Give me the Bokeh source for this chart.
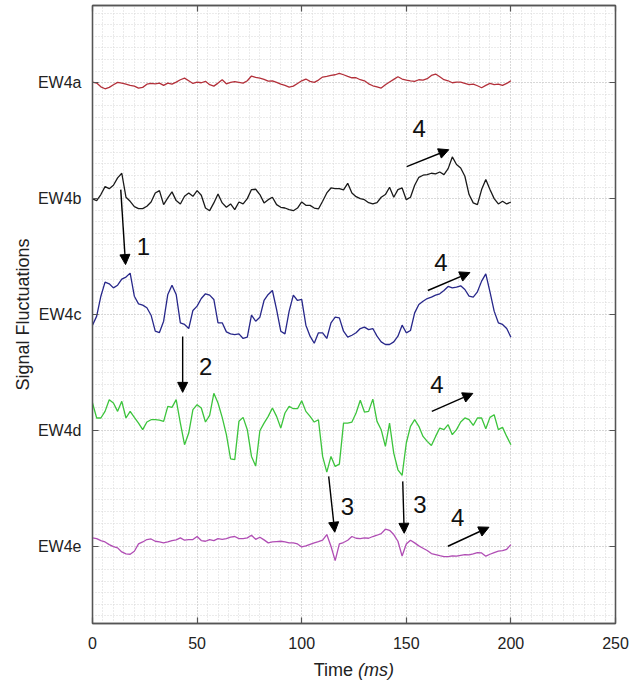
from bokeh.plotting import figure
from bokeh.models import (FixedTicker, SingleIntervalTicker, LinearAxis, Range1d,
                          Arrow, NormalHead, ColumnDataSource)
from bokeh.core.properties import value
from bokeh.embed import file_html
from bokeh.resources import INLINE

# sampling grid of the recordings (ms)
time_ms = list(range(0, 201, 2))

# channel names and the level each trace is stacked on
channels = ["EW4a", "EW4b", "EW4c", "EW4d", "EW4e"]
channel_level = [500, 400, 300, 200, 100]

# signal fluctuations around each channel level (arbitrary units)
ew4a = [0.6, -0.3, -3.5, -5.2, -4.0, -1.7, 0.3, -0.3, -1.2, -2.3, -2.9, -4.6, -4.0, -1.2, -0.6,
        -0.9, -0.3, -2.3, -0.3, -1.2, 0.6, 2.6, 4.0, 1.7, -0.6, 0.6, 0.0, 1.2, -1.7, -2.9,
        -0.3, 2.6, -0.9, 0.3, 0.9, 0.3, -0.3, 1.7, 5.8, 4.6, 4.0, 2.9, 1.4, 1.7, 0.3,
        -1.2, -2.3, -3.7, -2.9, -0.6,
        1.7, 3.2, 1.2, 0.3, 2.3, 4.9, 5.5, 6.3, 6.9, 8.1, 6.9, 5.5, 4.3, 4.3, 2.6,
        1.7, -0.9, -2.6, -3.5, -4.6, -1.7, 0.6, 2.9, 5.2, 3.2, 2.3, 1.7, 1.2, 2.6, 2.3,
        3.5, 6.3, 7.5, 5.2, 2.6, 1.7, 0.0, 0.6, 0.6, -0.6, -1.7, -1.2, -2.6, -4.3, -2.3,
        -0.6, -1.7, -1.2, -2.3, -0.6, 1.7]
ew4b = [-0.3, -1.7, 3.5, 10.4, 8.6, 11.5, 17.9, 21.9, 1.2, -2.3, -6.9, -8.6, -8.6, -6.6, -2.9,
        4.9, 6.9, -5.2, 0.6, 5.8, -1.7, -4.6, 2.0, 4.9, 2.0, 6.9, 2.9, -8.1, -10.4, -3.7,
        4.0, -3.7, -7.5, -4.6, -9.5, -2.9, -4.6, 0.0, 7.8, 8.1, 3.5, -3.7, -0.9, 1.2, -5.2,
        -7.5, -8.1, -9.5, -10.4, -8.1,
        -2.9, -5.8, -5.8, -8.1, -8.9, -2.3, 4.9, 9.2, 8.6, 8.6, 7.5, 13.2, 4.9, 1.7, 0.0,
        -0.9, -3.5, -4.6, -3.5, 1.2, 3.5, 9.8, 1.2, 7.8, 9.2, -0.9, 1.2, 11.5, 18.4, 20.2,
        20.7, 21.9, 21.3, 23.0, 20.7, 25.9, 36.0, 29.4, 26.5, 19.3, 3.5, -3.7, -5.2, 7.8, 16.4,
        7.8, 0.0, -4.6, -2.3, -4.6, -2.9]
ew4c = [-9.2, -1.4, 15.8, 27.9, 26.5, 23.0, 25.3, 30.5, 32.3, 35.7, 15.8, 9.2, 8.1, 5.8, -0.6,
        -14.4, -15.6, -5.8, 17.3, 25.3, 17.3, -7.2, -8.6, -12.1, 3.5, 7.2, 13.8, 17.9, 16.7, 13.0,
        -7.2, -7.2, -15.0, -16.7, -17.3, -16.7, -20.7, -19.6, -0.6, -5.8, -2.3, 12.1, 17.3, 20.7, 4.3,
        -14.4, -16.7, 2.9, 16.7, 12.1,
        13.0, -9.2, -18.7, -24.8, -15.8, -15.8, -20.7, -7.2, -2.3, -2.9, -14.4, -19.6, -17.9, -15.8, -12.1,
        -10.9, -13.0, -12.1, -18.7, -23.6, -25.9, -25.9, -23.6, -18.7, -9.2, -15.8, -13.8, 1.4, 8.6, 11.5,
        13.8, 15.0, 16.7, 17.9, 20.7, 24.2, 23.0, 23.6, 24.8, 21.6, 15.8, 15.0, 19.6, 28.8, 35.0,
        19.6, 2.9, -7.2, -8.6, -12.1, -19.6]
ew4d = [23.6, 10.7, 10.7, 16.4, 26.5, 23.6, 16.4, 25.1, 10.7, 16.4, 11.2, 6.3, 0.6, 7.2, 9.2,
        9.2, 8.9, 7.8, 20.7, 19.9, 26.5, 6.3, -12.4, -2.3, 17.9, 22.2, 19.3, 7.2, 13.0, 32.0,
        23.6, 11.2, -3.7, -24.5, -25.3, 7.8, 11.2, 0.6, -22.5, -30.8, -0.3, 6.3, 12.1, 19.3, 12.1,
        2.0, 15.0, 20.7, 18.7, 18.7,
        25.6, 16.4, 12.1, 7.2, 9.2, -22.5, -36.0, -22.5, -31.1, -29.1, 6.3, 6.3, 7.2, 15.0, 26.0,
        15.8, 16.4, 27.0, 7.8, 0.6, -13.8, 6.3, -19.6, -34.0, -38.9, -10.9, 3.5, 9.2, 3.5, -5.2,
        -9.5, -13.0, -5.2, 2.0, 0.6, 4.9, -3.7, 0.6, 7.2, 10.7, 9.2, 4.3, 10.7, 10.7, 1.4,
        11.2, 13.5, 0.6, 2.6, -5.2, -12.4]
ew4e = [7.2, 6.6, 4.9, 3.7, 1.4, -0.3, -1.4, -4.9, -6.6, -6.9, -4.3, 2.0, 3.7, 5.8, 6.3,
        4.3, 3.7, 2.9, 3.7, 4.9, 5.5, 7.2, 5.2, 5.8, 5.8, 8.4, 4.9, 4.3, 5.8, 4.9,
        6.6, 6.0, 6.6, 7.8, 8.4, 6.6, 6.6, 7.2, 9.5, 6.0, 7.8, 5.5, 2.9, 3.7, 4.0,
        4.3, 3.7, 2.9, 2.9, 2.0,
        -0.6, 0.3, 1.7, 2.9, 4.0, 5.2, 10.1, 0.0, -12.4, 2.0, 3.2, 5.2, 8.4, 6.9, 6.6,
        7.2, 6.9, 8.4, 9.5, 10.9, 14.7, 13.8, 10.1, 4.3, -8.4, 2.0, 5.2, 2.9, 0.3, -1.7,
        -3.7, -6.3, -7.2, -8.1, -8.9, -8.9, -8.4, -8.6, -7.8, -7.2, -7.5, -6.6, -5.5, -5.8, -8.6,
        -6.9, -5.5, -4.3, -3.7, -2.6, 1.4]

series = [ew4a, ew4b, ew4c, ew4d, ew4e]
colors = ["#b3303a", "#1a1a1a", "#27278a", "#3cc43c", "#b04db4"]

# annotation arrows (data coordinates) and their numbers
arrow_x0 = [13.5, 43.1, 112.9, 148.3, 150.2, 160.3, 162.2, 169.9]
arrow_y0 = [407.8, 281.0, 160.3, 156.0, 427.6, 320.7, 216.4, 100.0]
arrow_x1 = [15.8, 43.1, 115.8, 149.0, 170.3, 180.4, 181.8, 189.5]
arrow_y1 = [343.1, 232.8, 112.1, 111.2, 442.2, 336.2, 231.9, 116.4]
note_text = ["1", "2", "3", "3", "4", "4", "4", "4"]
note_x = [24.3, 54.1, 121.9, 156.5, 156.1, 166.5, 164.6, 174.5]
note_y = [358.9, 255.4, 134.7, 136.2, 460.1, 344.6, 239.7, 124.7]

FONT = "Liberation Sans"
AXIS_COLOR = "#555555"

p = figure(width=636, height=681, x_range=Range1d(0, 250), y_range=Range1d(33.33, 566.67),
           output_backend="svg", toolbar_location=None,
           min_border_left=92, min_border_right=21, min_border_top=5, min_border_bottom=58)
p.background_fill_color = "white"
p.border_fill_color = "white"
p.outline_line_color = AXIS_COLOR
p.outline_line_width = 1.3

x_ticker = SingleIntervalTicker(interval=50, num_minor_ticks=10)
y_ticker = FixedTicker(ticks=sorted(channel_level), minor_ticks=list(range(40, 561, 10)))

p.xaxis.ticker = x_ticker
p.yaxis.ticker = y_ticker
p.yaxis.major_label_overrides = {lvl: name for lvl, name in zip(channel_level, channels)}


def style_axis(ax, show_labels):
    ax.axis_line_color = AXIS_COLOR
    ax.axis_line_width = 1.3
    ax.major_tick_line_color = AXIS_COLOR
    ax.major_tick_line_width = 1.2
    ax.major_tick_in = 6
    ax.major_tick_out = 0
    ax.minor_tick_line_color = None
    ax.major_label_text_font = FONT
    ax.major_label_text_color = "#222222"
    if show_labels:
        ax.major_label_text_font_size = "16px"
    else:
        ax.major_label_text_font_size = "1px"
        ax.major_label_standoff = 0


style_axis(p.xaxis[0], True)
style_axis(p.yaxis[0], True)
p.xaxis.major_label_standoff = 9
p.yaxis.major_label_standoff = 7
p.yaxis.axis_label = "Signal Fluctuations"
p.yaxis.axis_label_text_font = FONT
p.yaxis.axis_label_text_font_size = "18px"
p.yaxis.axis_label_text_font_style = "normal"
p.yaxis.axis_label_text_color = "#222222"
p.yaxis.axis_label_standoff = 2

top_axis = LinearAxis(ticker=x_ticker,
                      major_label_overrides={v: "" for v in range(0, 251, 50)})
right_axis = LinearAxis(ticker=y_ticker,
                        major_label_overrides={lvl: "" for lvl in channel_level})
style_axis(top_axis, False)
style_axis(right_axis, False)
p.add_layout(top_axis, "above")
p.add_layout(right_axis, "right")

# dotted major + minor grid
for g in (p.xgrid[0], p.ygrid[0]):
    g.grid_line_color = "#c4c4c4"
    g.grid_line_dash = "1 2"
    g.grid_line_width = 1
    g.minor_grid_line_color = "#d6d6d6"
    g.minor_grid_line_dash = "1 2"
    g.minor_grid_line_width = 1

# stacked traces
for vals, lvl, col in zip(series, channel_level, colors):
    src = ColumnDataSource(dict(t=time_ms, y=[lvl + v for v in vals]))
    p.line("t", "y", source=src, line_color=col, line_width=1.3)

# arrows with numbered notes
arrow_src = ColumnDataSource(dict(x0=arrow_x0, y0=arrow_y0, x1=arrow_x1, y1=arrow_y1))
p.add_layout(Arrow(end=NormalHead(size=10, fill_color="black", line_color="black", line_width=1),
                   x_start="x0", y_start="y0", x_end="x1", y_end="y1", source=arrow_src,
                   line_color="black", line_width=1.4))
note_src = ColumnDataSource(dict(x=note_x, y=note_y, text=note_text))
p.text("x", "y", text="text", source=note_src, text_font=value(FONT), text_font_size="24px",
       text_align="center", text_baseline="middle", text_color="#111111")

# x-axis title "Time (ms)" with the unit in italics, drawn on the overlay level
title_src = ColumnDataSource(dict(x=[125], y=[-6.9], text=["Time"]))
p.text("x", "y", text="text", source=title_src, x_offset=-1, text_align="right",
       text_baseline="alphabetic", text_font=value(FONT), text_font_size="18px",
       text_color="#222222", level="overlay")
unit_src = ColumnDataSource(dict(x=[125], y=[-6.9], text=["(ms)"]))
p.text("x", "y", text="text", source=unit_src, x_offset=4, text_align="left",
       text_baseline="alphabetic", text_font=value(FONT), text_font_size="18px",
       text_font_style="italic", text_color="#222222", level="overlay")

open("out.html", "w").write(file_html(p, INLINE))
